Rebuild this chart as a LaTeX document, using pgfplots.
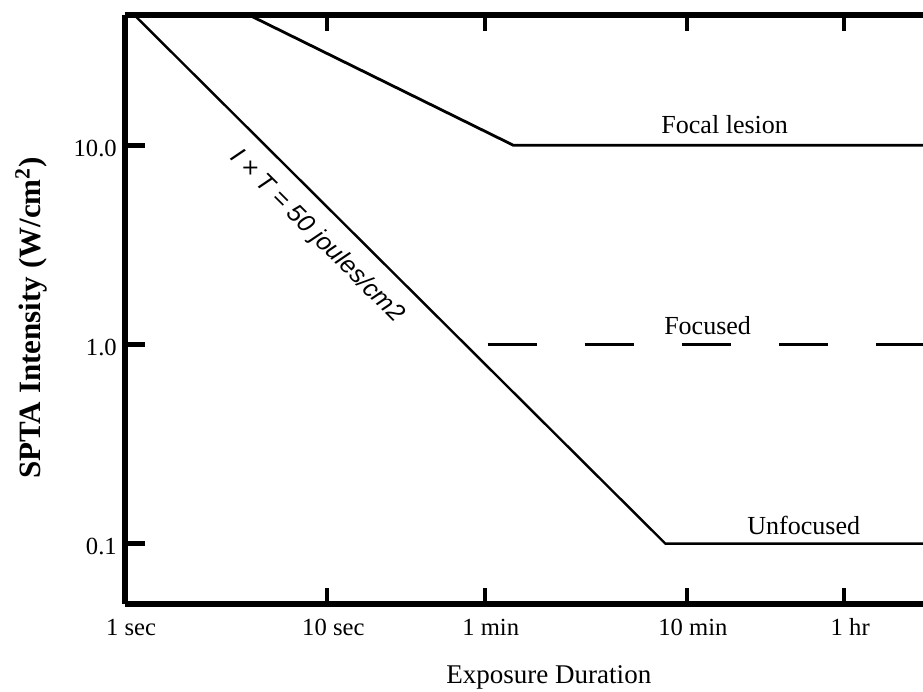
\documentclass[border=0pt]{standalone}
\usepackage{fontspec}
\setmainfont{Liberation Serif}
\newfontfamily\lsans{Liberation Sans}
\usepackage{pgfplots}
\pgfplotsset{compat=1.18}
\usetikzlibrary{calc}
\begin{document}
\begin{tikzpicture}
\begin{axis}[
  name=ax,
  scale only axis, width=398.5pt, height=294pt,
  xmode=log, ymode=log,
  xmin=1, xmax=8830, ymin=0.05, ymax=45,
  axis x line*=box, axis y line*=left,
  axis line style={line width=3pt, black},
  tick align=inside,
  xtick={1,10,60,600,3600},
  xticklabels={1 sec,10 sec,1 min,10 min,1 hr},
  ytick={0.1,1,10},
  yticklabels={0.1,1.0,10.0},
  xminorticks=false, yminorticks=false,
  xtick style={black, line width=2pt, /pgfplots/major tick length=8pt},
  ytick style={black, line width=2.5pt, /pgfplots/major tick length=10pt},
  xticklabel style={font=\fontsize{12.3}{14}\selectfont, anchor=base, inner sep=0pt, xshift=3pt, yshift=-16pt},
  yticklabel style={font=\fontsize{12.3}{14}\selectfont, anchor=east, inner sep=0pt, xshift=-4pt, yshift=-1.5pt},
  xlabel={Exposure Duration},
  ylabel={SPTA Intensity (W/cm\textsuperscript{2})},
  xlabel style={font=\fontsize{13.5}{15}\selectfont, at={(axis description cs:0.531,0)}, anchor=base, yshift=-40pt},
  ylabel style={font=\fontsize{15.5}{17}\selectfont\bfseries, at={(axis description cs:-0.118,0.4855)}, anchor=center},
  clip=true,
]
\addplot[line width=1.2pt] coordinates {(1,50) (470,0.1) (10000,0.1)};
\addplot[line width=1.4pt] coordinates {(3.5,48.7) (83,10) (10000,10)};
\addplot[line width=1.6pt, dash pattern=on 24.5pt off 24pt] coordinates {(62,1) (10000,1)};
\node[font=\fontsize{13}{15}\selectfont, anchor=base, inner sep=0pt, yshift=6pt] at (axis cs:923,10) {Focal lesion};
\node[font=\fontsize{13}{15}\selectfont, anchor=base, inner sep=0pt, yshift=5pt] at (axis cs:760,1) {Focused};
\node[font=\fontsize{13}{15}\selectfont, anchor=base, inner sep=0pt, yshift=4.5pt] at (axis cs:2272,0.1) {Unfocused};
\node[font=\lsans\itshape\fontsize{12.5}{14}\selectfont, rotate=-44.9, inner sep=0pt] at ($(axis cs:11.15,4.38)+(-134.9:14pt)$) {I × T = 50 joules/cm2};
\end{axis}
\pgfresetboundingbox
\path[use as bounding box] ($(ax.south west)+(-62.5pt,-44pt)$) rectangle ($(ax.north east)+(0,7.5pt)$);
\end{tikzpicture}
\end{document}
